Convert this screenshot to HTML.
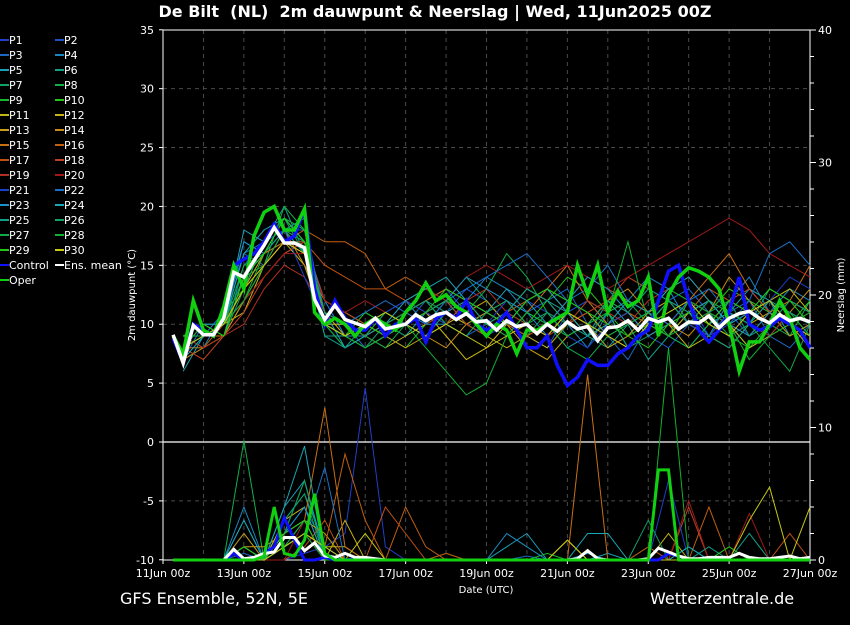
<!DOCTYPE html>
<html><head><meta charset="utf-8">
<style>
html,body{margin:0;padding:0;background:#000;}
body{width:850px;height:620px;overflow:hidden;font-family:"Liberation Sans","DejaVu Sans",sans-serif;}
svg text{font-family:"DejaVu Sans","Liberation Sans",sans-serif;fill:#fff;}
</style></head>
<body>
<svg id="chart" width="850" height="620" viewBox="0 0 850 620" xmlns="http://www.w3.org/2000/svg">
<rect x="0" y="0" width="850" height="620" fill="#000"/>
<text x="435" y="17" text-anchor="middle" font-size="16" font-weight="bold">De Bilt&#160; (NL)&#160; 2m dauwpunt &amp; Neerslag | Wed, 11Jun2025 00Z</text>
<text x="120" y="604" font-size="16">GFS Ensemble, 52N, 5E</text>
<text x="650" y="604" font-size="16">Wetterzentrale.de</text>
<text x="486" y="593" text-anchor="middle" font-size="10">Date (UTC)</text>
<text transform="translate(135,295) rotate(-90)" text-anchor="middle" font-size="10">2m dauwpunt (°C)</text>
<text transform="translate(844,295) rotate(-90)" text-anchor="middle" font-size="10">Neerslag (mm)</text>
<g id="grid"></g>
<g id="axes"></g>
<g id="series"></g>
<g id="legend"></g>
</svg>
<script>
// ---- data ----
const dayLabels = ["11Jun 00z","13Jun 00z","15Jun 00z","17Jun 00z","19Jun 00z","21Jun 00z","23Jun 00z","25Jun 00z","27Jun 00z"];
const tempTicks = [35,30,25,20,15,10,5,0,-5,-10];
const precipTicks = [40,30,20,10,0];
const memberNames = ["P1","P2","P3","P4","P5","P6","P7","P8","P9","P10","P11","P12","P13","P14","P15","P16","P17","P18","P19","P20","P21","P22","P23","P24","P25","P26","P27","P28","P29","P30"];
const memberColors = ["#1f3fc8","#1e50c8","#1a68c0","#1a88c0","#18a0b8","#10a088","#10a064","#10b048","#14b82a","#24c414","#c0b814","#c8b414","#c8a014","#c88c14","#c87014","#c06010","#c05014","#c04024","#b03020","#a01a1a","#1a40c8","#1a70c8","#1a90c8","#18a8b8","#10a088","#10a068","#10a848","#10b030","#24c414","#c8c814"];
// member dew point, 12-hourly from 11Jun 12z
const dew = [
[8,9,10,15,16,19,17,10,10,9,10,11,10,12,11,9,10,12,11,9,10,8,9,11,10,12,9,10,11,12,10,9],
[9,9,9,14,17,18,16,12,9,10,11,10,9,11,13,12,10,9,8,11,12,10,11,9,8,10,12,11,9,10,12,11],
[7,10,10,16,15,18,18,11,10,8,9,10,12,13,11,10,9,11,12,13,10,9,7,10,12,13,11,10,12,9,8,10],
[9,8,11,17,16,19,17,12,9,9,11,12,10,10,12,14,13,11,9,10,8,11,12,14,13,10,9,12,14,11,13,12],
[6,9,10,18,17,18,19,10,8,9,10,9,11,12,10,11,13,12,10,8,9,12,10,11,9,8,10,11,13,12,9,10],
[8,10,9,15,17,20,16,9,9,10,9,11,12,11,10,9,11,13,12,11,9,8,10,7,9,11,12,10,8,9,11,10],
[9,9,10,13,16,19,17,11,10,11,10,9,10,12,14,12,10,9,11,10,12,11,8,9,10,12,11,9,10,13,12,11],
[8,8,9,14,15,20,18,10,8,9,11,10,9,10,11,13,16,14,11,9,10,11,12,10,9,8,10,12,11,10,9,12],
[9,10,10,12,16,18,16,12,11,10,9,8,10,11,12,11,10,12,13,12,11,9,10,11,13,12,10,9,8,10,11,9],
[8,9,11,13,17,19,17,10,9,11,10,11,12,10,9,10,11,10,12,14,13,11,9,10,12,10,11,13,12,11,10,12],
[9,9,10,11,15,17,15,10,10,9,8,9,10,11,10,9,8,9,10,11,9,10,11,9,10,8,9,11,10,12,13,11],
[8,10,9,12,14,16,17,11,9,8,9,10,11,9,7,8,10,9,8,10,11,9,8,10,9,11,12,10,8,9,10,8],
[9,9,10,13,16,17,16,10,9,10,9,8,9,10,11,12,10,8,7,9,10,8,9,11,12,10,9,8,10,11,9,10],
[7,8,9,12,15,18,15,12,11,10,11,10,9,8,10,11,12,10,9,11,10,12,13,11,10,9,11,14,12,10,11,13],
[9,9,9,14,16,17,16,11,10,9,10,11,12,13,12,10,9,11,13,15,12,10,11,10,9,12,14,16,13,11,12,15],
[8,8,10,13,15,17,18,17,17,16,13,14,13,12,11,10,11,12,13,11,10,12,11,9,10,11,13,12,11,10,12,11],
[9,9,10,12,15,17,17,15,14,13,13,12,11,10,12,11,10,9,10,12,14,13,12,11,10,12,11,10,9,11,10,9],
[8,7,9,11,14,16,17,12,11,10,9,10,11,12,10,9,11,13,12,10,11,12,14,13,12,11,10,12,13,11,10,11],
[9,8,9,10,13,15,14,11,10,9,10,11,10,11,12,13,11,10,9,10,12,11,10,12,13,14,12,11,10,9,11,10],
[8,9,10,12,14,16,16,12,11,12,11,12,13,12,14,15,14,13,14,15,14,13,14,15,16,17,18,19,18,16,15,14],
[9,9,10,15,17,18,14,10,9,10,11,12,11,10,9,10,12,11,10,9,8,10,11,13,12,10,9,11,10,12,14,13],
[8,9,11,16,17,19,18,11,10,11,12,11,10,12,13,14,15,16,14,12,13,15,12,11,10,12,13,11,12,16,17,15],
[9,10,10,17,16,18,17,10,9,8,9,10,11,12,14,13,12,11,10,12,14,13,11,9,10,11,12,10,9,11,10,9],
[7,9,10,16,18,19,17,11,8,9,10,12,13,14,12,11,10,12,13,11,9,10,12,11,13,14,12,10,11,13,12,11],
[9,9,10,14,16,18,16,9,8,10,11,10,9,11,12,10,11,13,12,10,9,11,8,10,12,11,9,8,10,12,11,10],
[8,10,9,13,17,19,16,10,9,8,10,11,12,10,9,11,12,10,11,9,10,12,11,13,12,10,11,12,9,10,12,11],
[9,9,10,12,15,18,17,11,10,9,8,10,11,12,11,10,9,11,10,8,7,9,10,11,9,10,12,11,10,8,6,10],
[8,9,10,15,16,19,18,10,9,8,9,10,8,6,4,5,9,11,10,9,10,11,17,10,9,12,11,10,7,9,10,11],
[9,10,9,14,16,19,17,10,9,10,9,10,11,13,12,11,10,12,13,12,11,10,9,8,10,11,10,12,11,13,12,10],
[8,9,10,13,15,17,16,10,9,10,11,10,9,10,9,8,9,10,9,11,10,9,8,10,11,12,10,9,11,12,10,9]
];
// member precipitation (mm), 12-hourly from 11Jun 12z
const rain = [
[0,0,0,0,0,0,0.5,1,2,13,1,0,0,0,0,0,0,0,0,0,0,0,0,0,0,0,0,0,0,0,0,0],
[0,0,0,0,0,1,3,0,0,0,0,0,0,0,0,0,0,0,0,0,0,0,0,0,0,0,0,0,0,0,0,0],
[0,0,0,0.5,0,2,4,1,0,0,0,0,0,0,0,0,0,0.3,0,0,0,0,0,0,0,0,0,0,0,0,0,0],
[0,0,0,4,0,3,5,1,0,0,0,0,0,0,0,0,0,0,0,0,0,0,0,0,0,0,0,0,0,0,0,0],
[0,0,0,3,0,4,6,0.5,0,0,0,0,0,0,0,0,1,2,0,0,0,0.5,0,0,0,1,0,0,0,0,0,0],
[0,0,0,1,0,2,3,0,0,0,0,0,0,0,0,0,0,0,0,0,0,0,0,0,0,0,0,0,0,0,0,0],
[0,0,0,2,0,3,5,0,0,0,0,0,0,0,0,0,0,0,0,0,0,0,0,0,0,0,0,1,0,0,0,0],
[0,0,0,9,0,2,6,0,0,0,0,0,0,0,0,0,0,0,0,0,0,0,0,1,0,0,0,0,0,0,0,0],
[0,0,0,0,0,1,2,0,0,0,0,0,0,0.5,0,0,0,0,0.5,0,0,0,0,0,0,0,0,0,0,0,0,0],
[0,0,0,1,0,1,3,0,0,0,0,0,0,0,0,0,0,0,0,0,0,0,0,0,0,0,0,0,0,0,0,0],
[0,0,0,0,0,1,2,1,1,0,0,0,0,0,0,0,0,0,0,0,0,0,0,0,0,0,0,0,0,0,0,0],
[0,0,0,1,0,3,4,0,3,0,0,0,0,0,0,0,0,0,0,1.5,0,0,0,0,2,0,0,0,0,0,0,0],
[0,0,0,1,1,2,3,2,0,0,0,0,0,0,0,0,0,0,0,0,0,0,0,0,0,0,0,0,0,0,0,0],
[0,0,0,2,0,1,2,0,0,0,0,0,0,0,0,0,0,0,0,0,0,0,0,0,0,0,0,0,0,0,0,0],
[0,0,0,1,0,2,3,11.5,1,0,0,0,0,0,0,0,0,0,0,0,14,0,0,0,0,0,0,0,0,0,0,0],
[0,0,0,0,0,1,2,1,8,3,0,4,1,0,0,0,0,0,0,0,0,0,0,0,0,0,4,0,0,0,0,0],
[0,0,0,0,0,0,1,3,0,0,4,2,0,0.5,0,0,0,0,0,0,0,0,0,1,0,0,0,0,0,0,2,0],
[0,0,0,0,0,1,2,0,0,0,0,0,0,0,0,0,0,0,0,0,0,0,0,0,0,4,0,0,0,0,0,0],
[0,0,0,0,0,2,3,0,0,0,0,0,0,0,0,0,0,0,0,0,0,0,0,0,0,0,0,0,0,0,0,0],
[0,0,0,0,0,0,3,0,0,0,0,0,0,0,0,0,0,0,0,0,0,0,0,0,0,4.5,0,0,3.5,0,0,0],
[0,0,0,0,0,1,2,0,0,0,0,0,0,0,0,0,0,0,0,0,0,0,0,0,6,0,0,0,0,0,0,0],
[0,0,0,0,0,1,2,7,0,0,0,0,0,0,0,0,0,0,0,0,0,0,0,0,0,0,0,0,0,0,0,0],
[0,0,0,0,0,2,4,0,0,0,0,0,0,0,0,0,2,1,0,0,0.5,0,0,0,0,0,0,0,0,0,0,0],
[0,0,0,3,0,4,8.6,0,0,0,0,0,0,0,0,0,0,0,0,0,2,2,0,0,0,1,0,0,0,0,0,0],
[0,0,0,1,0,2,3,0,0,0,0,0,0,0,0,0,0,0,0,0,0,0,0,0,0,0,1,0,2,0,0,0],
[0,0,0,1,0,2,6,0,0,0,0,0,0,0,0,0,0,0,0,0,0,0,0,3,0,0,0,0,0,0,0,0],
[0,0,0,1,0,1,3,0,0,0,0,0,0,0,0,0,0,0,0,0,0,0,0,0,0,0,0,0,0,0,0,0],
[0,0,0,0,0,1,2,0,0,0,0,0,0,0,0,0,0,0,0,0,0,0,0,0,16,0,0,0,0,0,0,0],
[0,0,0,1,0,2,3,0,0,0,0,0,0,0,0,0,0,0,0,0,0,0,0,0,0,0,0,1,0,0,0,0],
[0,0,0,0,0,1,2,1,0,2,0,0,0,0,0,0,0,0,0,1.5,0,0,0,0,0,0,0,0,3,5.5,0,4]
];
// 6-hourly from 11Jun 06z
const meanDew = [9.1,6.7,9.9,9.1,9.1,10.5,14.4,14.0,15.4,16.7, 18.2,16.9,16.9,16.5,12.1,10.4,11.6,10.4,10.1,9.8, 10.5,9.6,9.8,10.0,10.8,10.3,10.8,11.0,10.4,10.9, 10.2,10.3,9.5,10.3,9.8,10.0,9.2,10.0,9.4,10.2, 9.6,9.8,8.6,9.7,9.8,10.3,9.5,10.5,10.2,10.5, 9.6,10.2,10.1,10.7,9.7,10.5,10.9,11.1,10.5,10.1, 10.8,10.3,10.5,10.2];
const controlDew = [8.8,6.8,10.0,9.5,9.0,11.0,15.0,15.5,16.0,17.0, 18.5,17.0,17.5,19.8,13.0,10.0,12.0,10.5,9.5,9.5, 10.5,9.0,10.0,10.0,10.5,8.5,10.5,11.0,10.5,12.0, 10.0,9.5,10.0,11.0,9.5,8.0,8.0,9.0,6.5,4.8, 5.5,7.0,6.5,6.5,7.5,8.0,9.0,9.5,12.0,14.5, 15.0,12.0,9.5,8.5,9.5,11.0,14.0,10.0,9.5,9.8, 10.5,10.0,9.5,8.0];
const operDew = [9.0,7.5,12.0,9.5,9.0,11.5,15.0,13.0,17.5,19.5, 20.0,18.0,18.0,19.8,11.0,10.0,10.5,10.0,9.0,10.0, 10.5,10.0,9.5,11.0,12.0,13.5,12.0,12.5,11.5,11.0, 10.0,9.0,10.0,9.5,7.5,9.5,9.5,10.0,10.5,11.0, 15.0,12.5,15.0,11.0,12.8,11.5,12.0,14.0,9.0,12.5, 14.0,14.8,14.5,14.0,13.0,10.0,6.0,8.5,8.5,10.0, 12.0,10.5,8.0,7.0];
const meanRain = [0,0,0,0,0,0,0.8,0.1,0.2,0.5, 0.6,1.7,1.7,0.7,1.3,0.3,0.2,0.5,0.2,0.2, 0.1,0,0,0,0,0,0,0,0,0, 0,0,0,0,0,0,0,0,0,0, 0.1,0.7,0.1,0,0,0,0,0.1,0.9,0.6, 0.3,0.1,0.1,0.2,0.2,0.2,0.5,0.2,0.1,0.1, 0.2,0.3,0.1,0.2];
const controlRain = [0,0,0,0,0,0,0.5,0,0,0.5, 1,3.2,1.5,0,0,0.2,0,0,0.1,0, 0,0,0,0,0,0,0,0,0,0, 0,0,0,0,0,0,0,0,0,0, 0,0,0,0,0,0,0,0,0,0.5, 0.3,0,0,0,0,0,0,0,0,0, 0,0,0,0.2];
const operRain = [0,0,0,0,0,0,0,0,0,0.3, 4.0,0.5,0.3,1.5,5.0,0.5,0,0,0,0, 0,0,0,0,0,0,0,0,0,0, 0,0,0,0,0,0,0,0,0,0, 0,0,0,0,0,0,0,0,6.8,6.8, 0,0,0,0,0,0,0,0,0,0, 0,0,0,0];

// ---- scales ----
const X0 = 163, X1 = 810, DAYS = 16;
const xOf = t => X0 + t * (X1 - X0) / DAYS;
const yT = v => 442 - v * (530 / 45);
const yP = mm => 560 - mm * (530 / 40);
const NS = "http://www.w3.org/2000/svg";
function mk(tag, parent, attrs) {
  const e = document.createElementNS(NS, tag);
  for (const k in attrs) e.setAttribute(k, attrs[k]);
  parent.appendChild(e);
  return e;
}
const grid = document.getElementById('grid');
const axes = document.getElementById('axes');
const series = document.getElementById('series');
const legend = document.getElementById('legend');

// grid
tempTicks.forEach(v => {
  if (v === 35 || v === -10 || v === 0) return;
  const l = mk('line', grid, {x1: X0, x2: X1, y1: yT(v), y2: yT(v), stroke: '#4a4a4a', 'stroke-dasharray': '4,4', 'stroke-width': 1});
  
  
});
for (let d = 1; d < DAYS; d++) {
  const l = mk('line', grid, {x1: xOf(d), x2: xOf(d), y1: 30, y2: 560, stroke: '#4a4a4a', 'stroke-dasharray': '4,4', 'stroke-width': 1});
  
  
}
// axes
let a = mk('line', axes, {x1: X0, x2: X0, y1: 30, y2: 560, stroke: '#fff', 'stroke-width': 1});


a = mk('line', axes, {x1: X0, x2: X1, y1: 30, y2: 30, stroke: '#fff', 'stroke-width': 1});


a = mk('line', axes, {x1: X1, x2: X1, y1: 30, y2: 560, stroke: '#fff', 'stroke-width': 1});


a = mk('line', axes, {x1: X0, x2: X1, y1: 560, y2: 560, stroke: '#fff', 'stroke-width': 1});


a = mk('line', axes, {x1: X0, x2: X1, y1: yT(0), y2: yT(0), stroke: '#fff', 'stroke-width': 1.2});


tempTicks.forEach(v => {
  const t = mk('line', axes, {x1: X0 - 4, x2: X0, y1: yT(v), y2: yT(v), stroke: '#fff'});
  
  
  const tx = mk('text', axes, {x: 154, y: yT(v) + 4, 'text-anchor': 'end', 'font-size': 11});
  tx.textContent = v;
  
  
});
for (let m = 0; m <= 40; m += 2) {
  const major = m % 10 === 0;
  const t = mk('line', axes, {x1: X1, x2: X1 + (major ? 6 : 4), y1: yP(m), y2: yP(m), stroke: '#fff'});
  
  
}
precipTicks.forEach(m => {
  const tx = mk('text', axes, {x: 818, y: yP(m) + 4, 'font-size': 11});
  tx.textContent = m;
  
  
});
dayLabels.forEach((s, i) => {
  const tx = mk('text', axes, {x: xOf(i * 2), y: 577, 'text-anchor': 'middle', 'font-size': 11});
  tx.textContent = s;
  
  
  const t = mk('line', axes, {x1: xOf(i * 2), x2: xOf(i * 2), y1: 560, y2: 564, stroke: '#fff'});
  
  
});

// series
function pts(arr, step, start, yf) {
  return arr.map((v, i) => xOf(start + i * step).toFixed(1) + ',' + yf(v).toFixed(1)).join(' ');
}
dew.forEach((arr, k) => {
  const p = mk('polyline', series, {points: pts(arr, 0.5, 0.5, yT), fill: 'none', stroke: memberColors[k], 'stroke-width': 1});
  
  
});
rain.forEach((arr, k) => {
  const p = mk('polyline', series, {points: pts(arr, 0.5, 0.5, yP), fill: 'none', stroke: memberColors[k], 'stroke-width': 1});
  
  
});
let s;
s = mk('polyline', series, {points: pts(controlRain, 0.25, 0.25, yP), fill: 'none', stroke: '#1010ff', 'stroke-width': 3});


s = mk('polyline', series, {points: pts(meanRain, 0.25, 0.25, yP), fill: 'none', stroke: '#fff', 'stroke-width': 3});


s = mk('polyline', series, {points: pts(operRain, 0.25, 0.25, yP), fill: 'none', stroke: '#10d010', 'stroke-width': 3});


s = mk('polyline', series, {points: pts(controlDew, 0.25, 0.25, yT), fill: 'none', stroke: '#1010ff', 'stroke-width': 3.5});


s = mk('polyline', series, {points: pts(operDew, 0.25, 0.25, yT), fill: 'none', stroke: '#10d010', 'stroke-width': 3.5});


s = mk('polyline', series, {points: pts(meanDew, 0.25, 0.25, yT), fill: 'none', stroke: '#fff', 'stroke-width': 3.5});



// legend
const legNames = memberNames.concat(["Control", "Ens. mean", "Oper"]);
const legColors = memberColors.concat(["#1010ff", "#ffffff", "#10d010"]);
legNames.forEach((n, i) => {
  const col = i % 2, row = Math.floor(i / 2);
  const x = col === 0 ? 0 : 55, y = 40 + row * 15;
  const l = mk('line', legend, {x1: x, x2: x + 9, y1: y, y2: y, stroke: legColors[i], 'stroke-width': 2});
  
  
  const t = mk('text', legend, {x: x + 9, y: y + 4, 'font-size': 11});
  t.textContent = n;
  
  
});
</script>
</body></html>
